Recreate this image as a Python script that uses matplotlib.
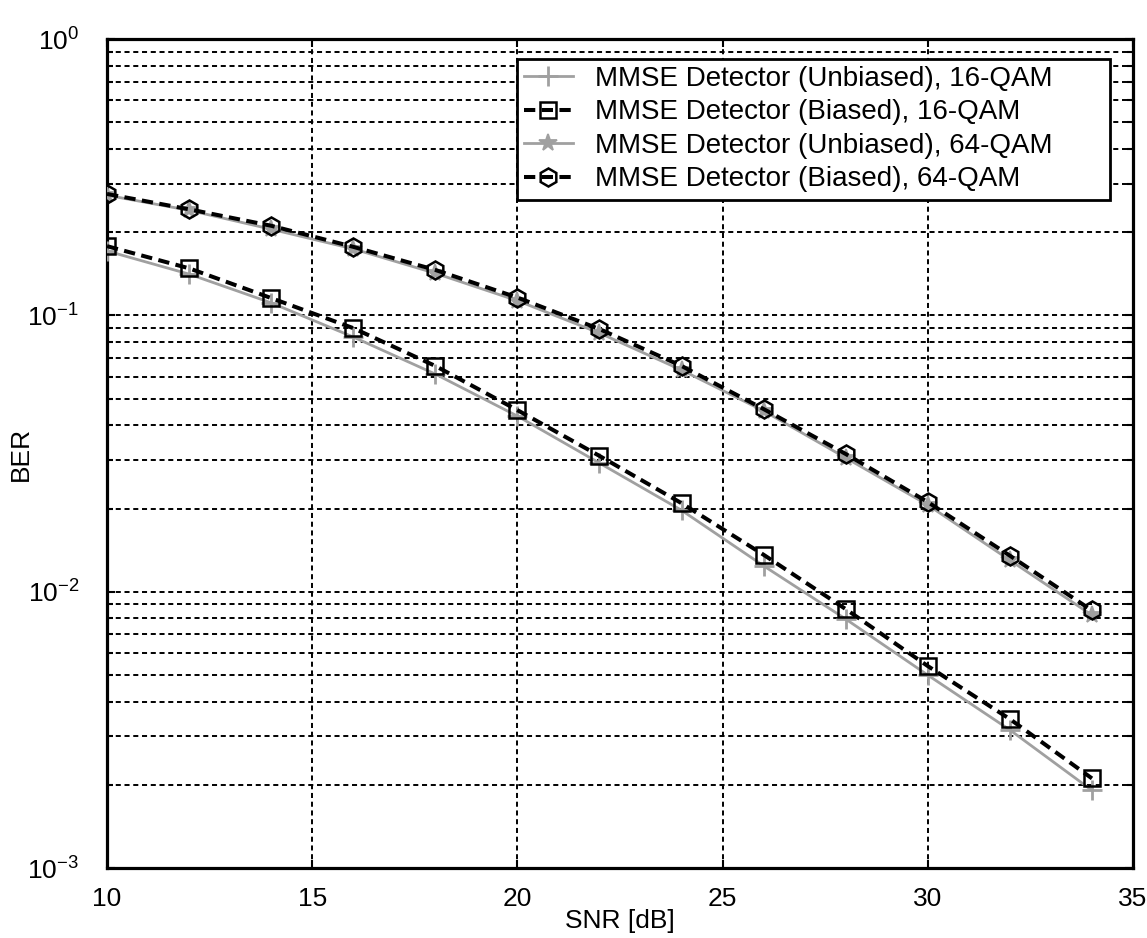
import matplotlib
matplotlib.use("Agg")
import matplotlib.pyplot as plt
from matplotlib.patches import Rectangle
from matplotlib.ticker import LogLocator, FixedLocator, NullFormatter

# SNR grid (dB)
snr = [10, 12, 14, 16, 18, 20, 22, 24, 26, 28, 30, 32, 34]

# Bit error rates
ber_unbiased_16 = [0.171, 0.141, 0.111, 0.0835, 0.0613, 0.0432, 0.0292,
                   0.0197, 0.0124, 0.00796, 0.00499, 0.00316, 0.00191]
ber_biased_16 = [0.178, 0.148, 0.1155, 0.0899, 0.0656, 0.0454, 0.0310,
                 0.0209, 0.0136, 0.00865, 0.00538, 0.00346, 0.00211]
ber_unbiased_64 = [0.272, 0.240, 0.205, 0.174, 0.142, 0.113, 0.0863,
                   0.0634, 0.0451, 0.0305, 0.0206, 0.0130, 0.00822]
ber_biased_64 = [0.275, 0.242, 0.211, 0.177, 0.146, 0.116, 0.0892,
                 0.0656, 0.0458, 0.0315, 0.0211, 0.0135, 0.00855]

labels = ["MMSE Detector (Unbiased), 16-QAM",
          "MMSE Detector (Biased), 16-QAM",
          "MMSE Detector (Unbiased), 64-QAM",
          "MMSE Detector (Biased), 64-QAM"]

x_ticks = [10, 15, 20, 25, 30, 35]
y_ticks = [1e-3, 1e-2, 1e-1, 1e0]
y_ticklabels = [r"$\mathregular{10^{-3}}$", r"$\mathregular{10^{-2}}$",
                r"$\mathregular{10^{-1}}$", r"$\mathregular{10^{0}}$"]

plt.rcParams["font.family"] = ["Liberation Sans", "DejaVu Sans"]
plt.rcParams["mathtext.fontset"] = "custom"
plt.rcParams["mathtext.rm"] = "Liberation Sans"

fig = plt.figure(figsize=(11.47, 9.38), dpi=100)
ax = fig.add_axes([0.0933, 0.0746, 0.8945, 0.8838])

gray = "#a0a0a0"
dash = (0, (2.8, 1.6))
ax.plot(snr, ber_unbiased_16, color=gray, lw=2.0, marker="+", ms=14,
        mew=2.0, label=labels[0], zorder=3)
ax.plot(snr, ber_biased_16, color="black", lw=2.9, ls=dash,
        marker="s", ms=11, mew=1.8, mfc="none", mec="black",
        label=labels[1], zorder=4)
ax.plot(snr, ber_unbiased_64, color=gray, lw=2.0, marker="*", ms=13,
        mew=1.3, label=labels[2], zorder=3)
ax.plot(snr, ber_biased_64, color="black", lw=2.9, ls=dash,
        marker="h", ms=13, mew=1.8, mfc="none", mec="black",
        label=labels[3], zorder=4)

ax.set_yscale("log")
ax.set_xlim(10, 35)
ax.set_ylim(1e-3, 1e0)

ax.xaxis.set_major_locator(FixedLocator(x_ticks))
ax.set_yticks(y_ticks)
ax.set_yticklabels(y_ticklabels)
ax.yaxis.set_minor_locator(LogLocator(base=10, subs=range(2, 10)))
ax.yaxis.set_minor_formatter(NullFormatter())

grid_style = dict(color="black", lw=1.4, ls=(0, (2.6, 1.9)))
ax.grid(True, which="major", axis="both", **grid_style)
ax.grid(True, which="minor", axis="y", **grid_style)
ax.set_axisbelow(True)

ax.tick_params(which="both", direction="in", labelsize=19, width=1.5,
               top=True, right=True)
ax.tick_params(which="major", length=6)
ax.tick_params(axis="x", which="major", pad=14)
ax.tick_params(axis="y", which="major", pad=20)
ax.tick_params(which="minor", length=4)
for s in ax.spines.values():
    s.set_linewidth(2.3)

ax.set_xlabel("SNR [dB]", fontsize=19)
ax.set_ylabel("BER", fontsize=19)
ax.xaxis.set_label_coords(0.5, -0.0495)
ax.yaxis.set_label_coords(-0.072, 0.5)

# legend box with generous right margin
box_x0, box_x1 = 0.3996, 0.9776
box_y0, box_y1 = 0.8058, 0.9759
ax.add_patch(Rectangle((box_x0, box_y0), box_x1 - box_x0, box_y1 - box_y0,
                       transform=ax.transAxes, facecolor="white",
                       edgecolor="black", lw=2.0, zorder=6, clip_on=False))
leg = ax.legend(loc="upper left", bbox_to_anchor=(box_x0, box_y1),
                fontsize=20, frameon=False, borderaxespad=0,
                handlelength=1.75, handletextpad=0.8, borderpad=0.25,
                labelspacing=0.27, numpoints=1)
leg.set_zorder(7)

fig.savefig("out.png", dpi=100)
